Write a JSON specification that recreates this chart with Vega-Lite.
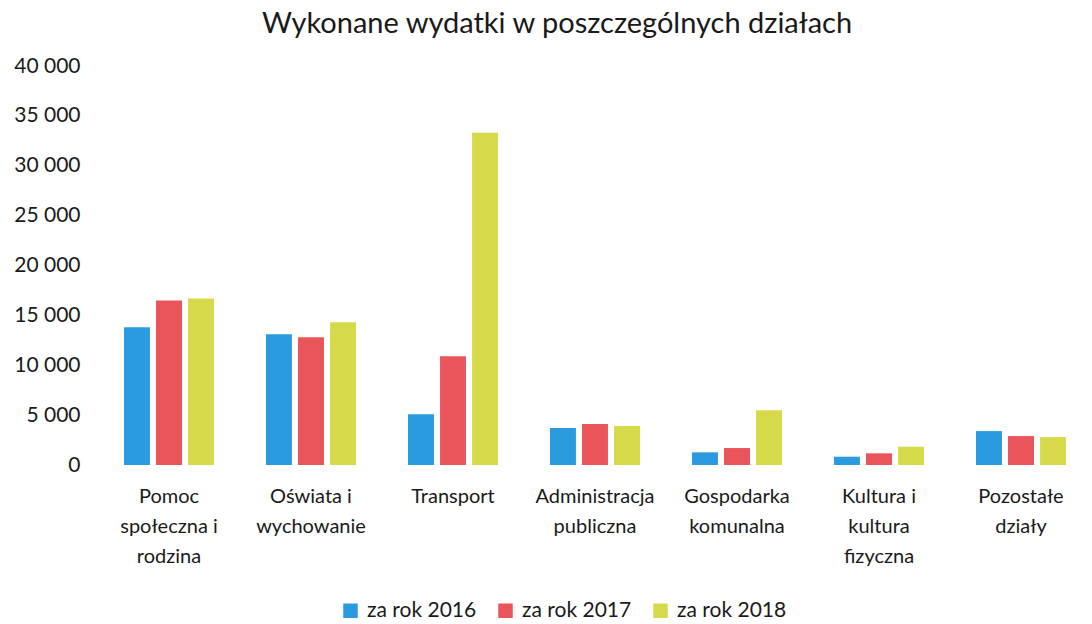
{
  "$schema": "https://vega.github.io/schema/vega-lite/v6.json",
  "width": 994,
  "height": 399,
  "autosize": "none",
  "padding": {"left": 98, "top": 66, "right": 0, "bottom": 159},
  "background": "white",
  "title": {
    "text": "Wykonane wydatki w poszczególnych działach",
    "font": "Lato",
    "fontSize": 29,
    "fontWeight": "normal",
    "color": "#1a1a1a",
    "anchor": "middle",
    "dx": -38,
    "offset": 16
  },
  "data": {
    "values": [
      {"dzial": "Pomoc społeczna i rodzina", "rok": "za rok 2016", "wartosc": 13800},
      {"dzial": "Pomoc społeczna i rodzina", "rok": "za rok 2017", "wartosc": 16500},
      {"dzial": "Pomoc społeczna i rodzina", "rok": "za rok 2018", "wartosc": 16700},
      {"dzial": "Oświata i wychowanie", "rok": "za rok 2016", "wartosc": 13100},
      {"dzial": "Oświata i wychowanie", "rok": "za rok 2017", "wartosc": 12800},
      {"dzial": "Oświata i wychowanie", "rok": "za rok 2018", "wartosc": 14300},
      {"dzial": "Transport", "rok": "za rok 2016", "wartosc": 5100},
      {"dzial": "Transport", "rok": "za rok 2017", "wartosc": 10900},
      {"dzial": "Transport", "rok": "za rok 2018", "wartosc": 33300},
      {"dzial": "Administracja publiczna", "rok": "za rok 2016", "wartosc": 3700},
      {"dzial": "Administracja publiczna", "rok": "za rok 2017", "wartosc": 4100},
      {"dzial": "Administracja publiczna", "rok": "za rok 2018", "wartosc": 3900},
      {"dzial": "Gospodarka komunalna", "rok": "za rok 2016", "wartosc": 1270},
      {"dzial": "Gospodarka komunalna", "rok": "za rok 2017", "wartosc": 1700},
      {"dzial": "Gospodarka komunalna", "rok": "za rok 2018", "wartosc": 5500},
      {"dzial": "Kultura i kultura fizyczna", "rok": "za rok 2016", "wartosc": 830},
      {"dzial": "Kultura i kultura fizyczna", "rok": "za rok 2017", "wartosc": 1170},
      {"dzial": "Kultura i kultura fizyczna", "rok": "za rok 2018", "wartosc": 1830},
      {"dzial": "Pozostałe działy", "rok": "za rok 2016", "wartosc": 3400},
      {"dzial": "Pozostałe działy", "rok": "za rok 2017", "wartosc": 2900},
      {"dzial": "Pozostałe działy", "rok": "za rok 2018", "wartosc": 2800}
    ]
  },
  "mark": {"type": "bar"},
  "encoding": {
    "x": {
      "field": "dzial",
      "type": "nominal",
      "sort": null,
      "title": null,
      "scale": {"paddingInner": 0.366, "paddingOuter": 0.183},
      "axis": {
        "labelAngle": 0,
        "labelFont": "Lato",
        "labelFontSize": 20,
        "labelColor": "#1a1a1a",
        "labelPadding": 21,
        "labelLineHeight": 30,
        "labelBaseline": "top",
        "domain": false,
        "ticks": false,
        "labelExpr": "datum.value == 'Pomoc społeczna i rodzina' ? ['Pomoc', 'społeczna i', 'rodzina'] : datum.value == 'Oświata i wychowanie' ? ['Oświata i', 'wychowanie'] : datum.value == 'Administracja publiczna' ? ['Administracja', 'publiczna'] : datum.value == 'Gospodarka komunalna' ? ['Gospodarka', 'komunalna'] : datum.value == 'Kultura i kultura fizyczna' ? ['Kultura i', 'kultura', 'fizyczna'] : datum.value == 'Pozostałe działy' ? ['Pozostałe', 'działy'] : datum.value"
      }
    },
    "xOffset": {
      "field": "rok",
      "type": "nominal",
      "scale": {"paddingInner": 0.19, "paddingOuter": 0}
    },
    "y": {
      "field": "wartosc",
      "type": "quantitative",
      "title": null,
      "scale": {"domain": [0, 40000]},
      "axis": {
        "values": [0, 5000, 10000, 15000, 20000, 25000, 30000, 35000, 40000],
        "format": ",d",
        "grid": false,
        "domain": false,
        "ticks": false,
        "labelFont": "Lato",
        "labelFontSize": 21,
        "labelColor": "#1a1a1a",
        "labelPadding": 18
      }
    },
    "color": {
      "field": "rok",
      "type": "nominal",
      "scale": {"domain": ["za rok 2016", "za rok 2017", "za rok 2018"], "range": ["#2b9be0", "#e9555a", "#d6da4a"]},
      "legend": {
        "title": null,
        "orient": "none",
        "direction": "horizontal",
        "legendX": 242,
        "legendY": 534,
        "symbolType": "square",
        "symbolSize": 210,
        "symbolStrokeWidth": 0,
        "labelFont": "Lato",
        "labelFontSize": 21,
        "labelColor": "#1a1a1a",
        "columnPadding": 18,
        "labelOffset": 6
      }
    }
  },
  "config": {
    "view": {"stroke": null},
    "locale": {
      "number": {"decimal": ",", "thousands": " ", "grouping": [3], "currency": ["", " zł"]}
    }
  }
}
